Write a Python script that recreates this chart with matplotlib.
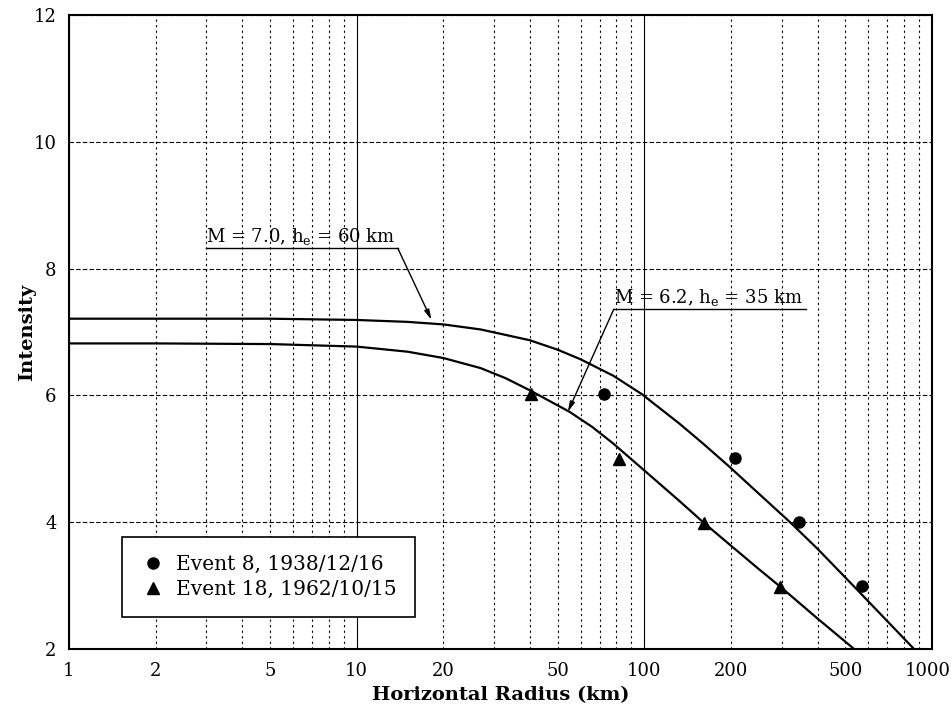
import matplotlib
matplotlib.use("Agg")
import matplotlib.pyplot as plt
from matplotlib.ticker import FixedLocator, FuncFormatter
from matplotlib.transforms import ScaledTranslation
import numpy as np

plt.rcParams['font.family'] = ['DejaVu Serif']
plt.rcParams['mathtext.fontset'] = 'dejavuserif'

# curve M = 7.0, h_e = 60 km
upper_r = [1, 2, 5, 10, 15, 20, 27, 40, 50, 60, 78, 98, 132, 160, 197, 250, 321, 400, 532, 866]
upper_i = [7.21, 7.21, 7.21, 7.19, 7.16, 7.12, 7.04, 6.87, 6.72, 6.57, 6.31, 6.02, 5.56, 5.24, 4.88, 4.45, 4.0, 3.58, 3.0, 2.0]

# curve M = 6.2, h_e = 35 km
lower_r = [1, 2, 5, 10, 15, 20, 27, 33, 40, 55, 66, 78, 98, 132, 161, 200, 250, 301, 400, 536]
lower_i = [6.82, 6.82, 6.81, 6.77, 6.69, 6.59, 6.43, 6.27, 6.08, 5.74, 5.50, 5.24, 4.85, 4.34, 3.99, 3.63, 3.26, 2.96, 2.48, 2.0]

# observations
event8_r = [72.6, 207, 345, 571]
event8_i = [6.02, 5.02, 4.0, 3.0]
event18_r = [40.5, 81.4, 161, 296]
event18_i = [6.02, 4.99, 3.99, 2.98]

major_x = [1, 10, 100, 1000]
labelled_minor = [2, 5, 20, 50, 200, 500]
yticks = [2, 4, 6, 8, 10, 12]


def main():
    fig = plt.figure(figsize=(9.53, 7.15), dpi=100)
    ax = fig.add_axes([0.0724, 0.0923, 0.9056, 0.8867])

    ax.set_xscale('log')
    ax.set_xlim(1, 1000)
    ax.set_ylim(2, 12)

    # decades solid, in-between lines dotted
    ax.xaxis.set_major_locator(FixedLocator(major_x))
    ax.xaxis.set_major_formatter(FuncFormatter(lambda v, p: '%d' % round(v)))
    minors = [m * d for d in (1, 10, 100) for m in range(2, 10)]
    ax.xaxis.set_minor_locator(FixedLocator(minors))
    ax.xaxis.set_minor_formatter(FuncFormatter(
        lambda v, p: '%d' % round(v) if round(v) in labelled_minor else ''))
    ax.set_yticks(yticks)
    ax.grid(which='major', axis='y', color='black', lw=0.8, linestyle=(0, (4, 2)))
    ax.grid(which='major', axis='x', color='black', lw=0.8, linestyle='-')
    ax.grid(which='minor', axis='x', color='black', lw=0.8, linestyle=(0, (2, 3)))
    ax.set_axisbelow(True)

    ax.tick_params(which='both', length=0, labelsize=13, pad=9)
    for s in ax.spines.values():
        s.set_linewidth(1.5)

    # keep the "1000" label inside the figure
    last = ax.xaxis.get_major_ticks()[-1].label1
    last.set_transform(last.get_transform() + ScaledTranslation(-3 / 72, 0, fig.dpi_scale_trans))

    # curves
    ax.plot(upper_r, upper_i, color='black', lw=1.6)
    ax.plot(lower_r, lower_i, color='black', lw=1.6)

    # points
    ax.plot(event8_r, event8_i, 'o', color='black', ms=8, label='Event 8, 1938/12/16')
    ax.plot(event18_r, event18_i, '^', color='black', ms=8, label='Event 18, 1962/10/15')

    # annotations
    arrow = dict(arrowstyle='-|>,head_width=0.15,head_length=0.6', color='black', lw=1,
                 shrinkA=0, shrinkB=0)
    ax.text(3.0, 8.34, r'M = 7.0, h$_\mathregular{e}$ = 60 km', fontsize=13, ha='left', va='bottom')
    ax.plot([3.0, 13.9], [8.32, 8.32], color='black', lw=1)
    ax.annotate('', xy=(18.2, 7.19), xytext=(13.9, 8.32), arrowprops=arrow)

    ax.text(78.3, 7.38, r'M = 6.2, h$_\mathregular{e}$ = 35 km', fontsize=13, ha='left', va='bottom')
    ax.plot([78.3, 366], [7.36, 7.36], color='black', lw=1)
    ax.annotate('', xy=(54.2, 5.74), xytext=(78.3, 7.36), arrowprops=arrow)

    leg = ax.legend(loc='lower left', bbox_to_anchor=(0.061, 0.05), borderaxespad=0,
                    fontsize=14.5, fancybox=False, framealpha=1, edgecolor='black',
                    handletextpad=0.5, borderpad=0.9, labelspacing=0.3, handlelength=1.3)
    leg.get_frame().set_linewidth(1.2)

    ax.set_xlabel('Horizontal Radius (km)', fontsize=14, fontweight='bold', labelpad=5)
    ax.set_ylabel('Intensity', fontsize=14, fontweight='bold', labelpad=-2)

    fig.savefig('out.png', dpi=100)
    plt.close('all')


if __name__ == "__main__":
    main()
